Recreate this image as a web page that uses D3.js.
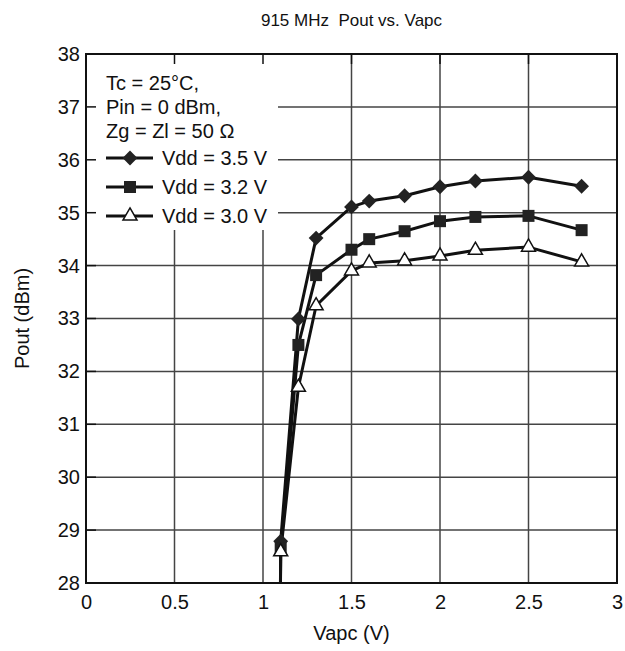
<!DOCTYPE html>
<html>
<head>
<meta charset="utf-8">
<script src="https://cdn.jsdelivr.net/npm/d3@7"></script>
<style>
  body { margin: 0; background: #fff; }
  svg text { font-family: "Liberation Sans", Arial, sans-serif; fill: #111; }
</style>
</head>
<body>
<div id="chart"></div>
<script>
// chart values
var vapc = [1.1, 1.2, 1.3, 1.5, 1.6, 1.8, 2.0, 2.2, 2.5, 2.8];
var pout35 = [28.79, 32.99, 34.52, 35.11, 35.22, 35.32, 35.49, 35.6, 35.67, 35.5];
var pout32 = [28.66, 32.5, 33.82, 34.3, 34.5, 34.65, 34.84, 34.92, 34.94, 34.67];
var pout30 = [28.59, 31.7, 33.24, 33.9, 34.05, 34.09, 34.18, 34.29, 34.35, 34.07];
// the curves run on below the bottom of the plot
var tailX = 1.095, tailY = 26;
var seriesNames = ['Vdd = 3.5 V', 'Vdd = 3.2 V', 'Vdd = 3.0 V'];
var xTicks = [0, 0.5, 1, 1.5, 2, 2.5, 3];
var yTicks = [28, 29, 30, 31, 32, 33, 34, 35, 36, 37, 38];
var notes = ['Tc = 25\u00B0C,', 'Pin = 0 dBm,', 'Zg = Zl = 50 \u03A9'];

var width = 625, height = 651;
// plot area edges (don't use "top", it's window.top)
var pL = 86, pR = 617, pT = 54, pB = 583;

var svg = d3.select('#chart').append('svg').attr('width', width).attr('height', height);

var x = d3.scaleLinear().domain([0, 3]).range([pL, pR]);
var y = d3.scaleLinear().domain([28, 38]).range([pB, pT]);

// grid
svg.append('g').selectAll('line').data(xTicks.slice(1, -1)).enter().append('line')
  .attr('x1', function (d) { return x(d); }).attr('x2', function (d) { return x(d); })
  .attr('y1', pT).attr('y2', pB)
  .attr('stroke', '#444').attr('stroke-width', 1.5);
svg.append('g').selectAll('line').data(yTicks.slice(1, -1)).enter().append('line')
  .attr('y1', function (d) { return y(d); }).attr('y2', function (d) { return y(d); })
  .attr('x1', pL).attr('x2', pR)
  .attr('stroke', '#444').attr('stroke-width', 1.5);

// tick labels via axes, no domain line / tick marks
var xAxis = d3.axisBottom(x).tickValues(xTicks).tickSize(0).tickPadding(12).tickFormat(d3.format('~g'));
var yAxis = d3.axisLeft(y).tickValues(yTicks).tickSize(0).tickPadding(6).tickFormat(d3.format('d'));
var gx = svg.append('g').attr('transform', 'translate(0,' + pB + ')').call(xAxis);
var gy = svg.append('g').attr('transform', 'translate(' + pL + ',0)').call(yAxis);
[gx, gy].forEach(function (g) {
  g.select('.domain').remove();
  g.selectAll('text').style('font-size', '20px').attr('fill', '#111');
});

// clip curves to plot
svg.append('clipPath').attr('id', 'plotclip').append('rect')
  .attr('x', pL).attr('y', pT).attr('width', pR - pL).attr('height', pB - pT);

var line = d3.line().x(function (d) { return x(d[0]); }).y(function (d) { return y(d[1]); });

var series = [pout35, pout32, pout30];
var plot = svg.append('g').attr('clip-path', 'url(#plotclip)');
series.forEach(function (vals) {
  var pts = [[tailX, tailY]].concat(vals.map(function (v, i) { return [vapc[i], v]; }));
  plot.append('path').datum(pts).attr('d', line)
    .attr('fill', 'none').attr('stroke', '#111').attr('stroke-width', 3).attr('stroke-linejoin', 'round');
});

// markers
var diamond = d3.symbol().type(d3.symbolSquare).size(110);
var triangle = d3.symbol().type(d3.symbolTriangle).size(85);
function drawMarker(g, kind, px, py) {
  if (kind === 0) {
    g.append('path').attr('d', diamond()).attr('transform', 'translate(' + px + ',' + py + ') rotate(45)').attr('fill', '#222');
  } else if (kind === 1) {
    g.append('rect').attr('x', px - 6).attr('y', py - 6).attr('width', 12).attr('height', 12).attr('fill', '#222');
  } else {
    g.append('path').attr('d', triangle()).attr('transform', 'translate(' + px + ',' + py + ')')
      .attr('fill', '#fff').attr('stroke', '#111').attr('stroke-width', 1.5);
  }
}
var markers = svg.append('g');
series.forEach(function (vals, k) {
  vals.forEach(function (v, i) { drawMarker(markers, k, x(vapc[i]), y(v)); });
});

// legend box
svg.append('rect').attr('x', pL).attr('y', pT).attr('width', 192).attr('height', 176).attr('fill', '#fff');
var legend = svg.append('g');
notes.forEach(function (t, i) {
  legend.append('text').attr('x', 106).attr('y', 83 + i * 24).attr('dy', '0.35em').style('font-size', '20px').text(t);
});
seriesNames.forEach(function (t, i) {
  var ly = 158 + i * 29;
  legend.append('line').attr('x1', 106).attr('x2', 153).attr('y1', ly).attr('y2', ly).attr('stroke', '#111').attr('stroke-width', 3);
  drawMarker(legend, i, 130, ly);
  legend.append('text').attr('x', 162).attr('y', ly).attr('dy', '0.35em').style('font-size', '20px').text(t);
});

// inner tick stubs along the frame
var stubs = svg.append('g').attr('stroke', '#111').attr('stroke-width', 1.5);
xTicks.slice(1, -1).forEach(function (d) {
  stubs.append('line').attr('x1', x(d)).attr('x2', x(d)).attr('y1', pT).attr('y2', pT + 10);
});
yTicks.slice(1, -1).forEach(function (d) {
  stubs.append('line').attr('x1', pL).attr('x2', pL + 10).attr('y1', y(d)).attr('y2', y(d));
});

// frame
svg.append('rect').attr('x', pL).attr('y', pT).attr('width', pR - pL).attr('height', pB - pT)
  .attr('fill', 'none').attr('stroke', '#111').attr('stroke-width', 2);

// titles
svg.append('text').attr('x', (pL + pR) / 2).attr('y', 20).attr('dy', '0.35em').attr('text-anchor', 'middle')
  .style('font-size', '17px').style('white-space', 'pre').text('915 MHz  Pout vs. Vapc');
svg.append('text').attr('x', (pL + pR) / 2).attr('y', 633).attr('dy', '0.35em').attr('text-anchor', 'middle')
  .style('font-size', '20px').text('Vapc (V)');
svg.append('text').attr('transform', 'translate(22,' + (pT + pB) / 2 + ') rotate(-90)').attr('dy', '0.35em')
  .attr('text-anchor', 'middle').style('font-size', '20px').text('Pout (dBm)');
</script>
</body>
</html>
